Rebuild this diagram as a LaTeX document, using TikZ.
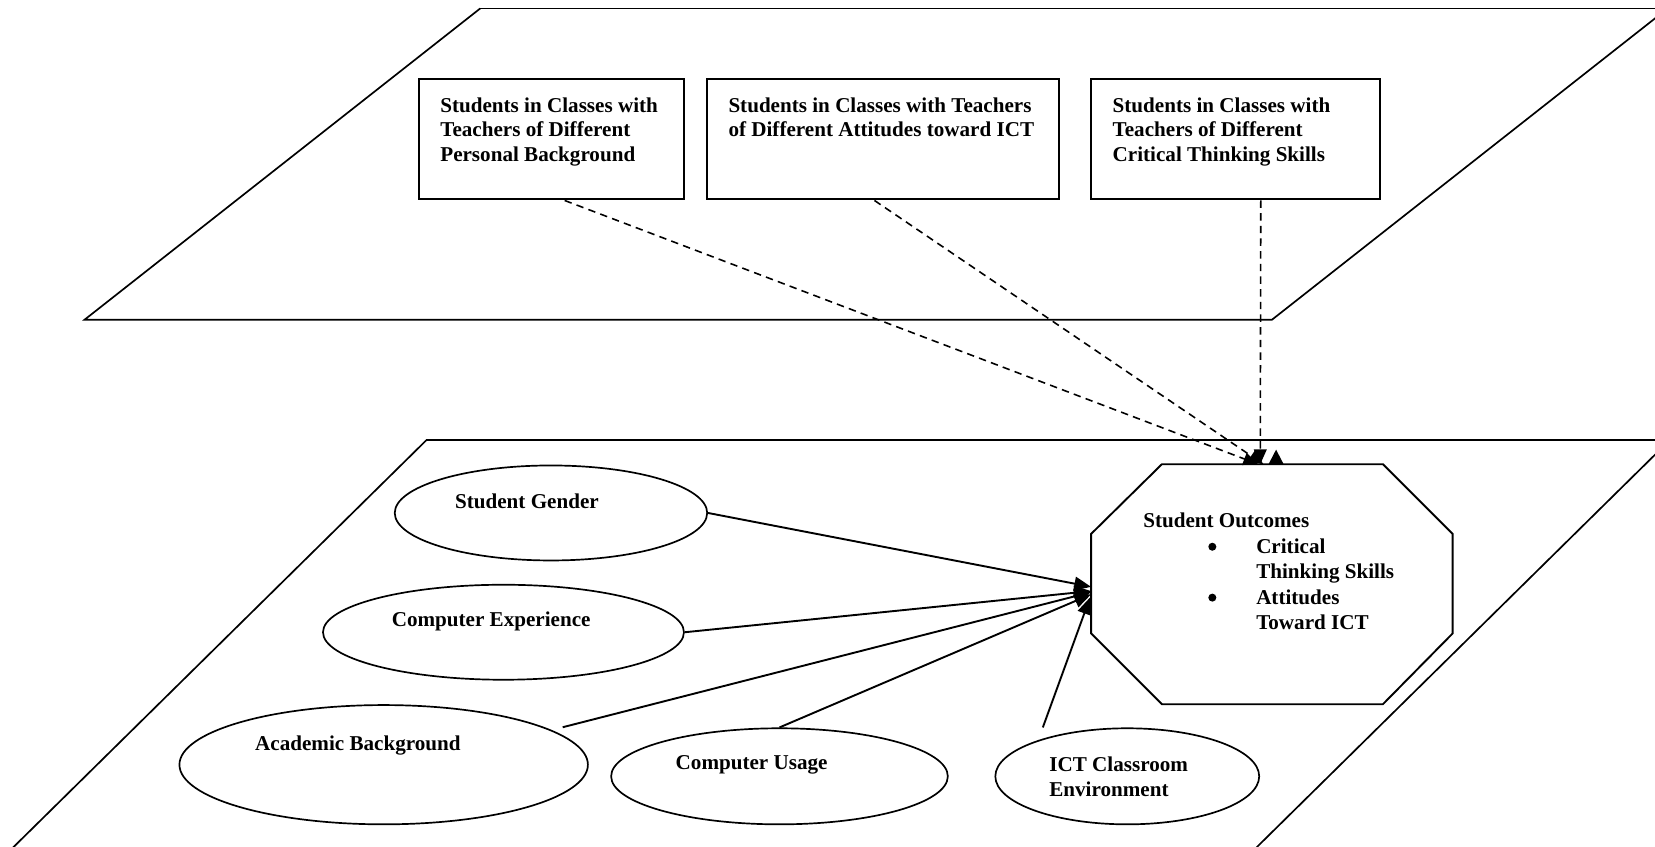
\documentclass[tikz,border=0pt]{standalone}
\usepackage{fontspec}
\setmainfont{Liberation Serif}
\usetikzlibrary{arrows.meta,shapes.geometric}
\begin{document}
\begin{tikzpicture}[x=1pt,y=-1pt,
  plane/.style={line width=1.6pt},
  tbox/.style={draw, line width=1.9pt, inner sep=0pt, minimum height=114pt},
  oval/.style={draw, ellipse, line width=1.6pt, inner sep=0pt},
  txt/.style={inner sep=0pt, font=\bfseries\fontsize{20}{23.2}\selectfont, align=left},
  otxt/.style={inner sep=0pt, font=\bfseries\fontsize{20}{24.2}\selectfont, align=left},
  bul/.style={circle, fill, inner sep=0pt, minimum size=7.6pt},
  dashar/.style={line width=1.5pt, dash pattern=on 7pt off 5pt, -{Triangle[length=14pt,width=12pt]}},
  solidar/.style={line width=1.8pt, -{Triangle[length=16pt,width=13pt]}},
  octo/.style={draw, line width=1.8pt, line join=miter}
]
\useasboundingbox (0,0) rectangle (1568,802);
\clip (0,0) rectangle (1568,802);
\fill[white] (0,0) rectangle (1568,802);

% planes
\draw[plane] (455,8) -- (1600,8);
\draw[plane] (455,8) -- (80,303) -- (1205,303) -- (1580,8);
\draw[plane] (404,417) -- (1600,417);
\draw[plane] (404,417) -- (-10,825);
\draw[plane] (1582,417) -- (1168,825);

% top boxes
\node[tbox, minimum width=251pt] (b1) at (522.5,132) {};
\node[tbox, minimum width=333pt] (b2) at (836.5,132) {};
\node[tbox, minimum width=273pt] (b3) at (1170.5,132) {};
\node[txt, anchor=north west] (t1) at (417,92.5) {Students in Classes with\\Teachers of Different\\Personal Background};
\node[txt, anchor=north west] (t2) at (690,92.5) {Students in Classes with Teachers\\of Different Attitudes toward ICT};
\node[txt, anchor=north west] (t3) at (1054,92.5) {Students in Classes with\\Teachers of Different\\Critical Thinking Skills};

% octagon
\node[minimum width=342pt, minimum height=227pt, inner sep=0pt] (out) at (1205,553.5) {};
\draw[octo] ([xshift=67pt]out.north west) -- ([xshift=-66pt]out.north east)
  -- ([yshift=-66pt]out.north east) -- ([yshift=67pt]out.south east)
  -- ([xshift=-66pt]out.south east) -- ([xshift=67pt]out.south west)
  -- ([yshift=67pt]out.south west) -- ([yshift=-66pt]out.north west) -- cycle;
\node[otxt, anchor=base west] (oh) at (1083,499.6) {Student Outcomes};
\node[bul] (ob1) at (1148.6,518) {};
\node[otxt, anchor=north west] (oi1) at (1190,510.1) {Critical\\Thinking Skills};
\node[bul] (ob2) at (1148.6,566.2) {};
\node[otxt, anchor=north west] (oi2) at (1190,558.5) {Attitudes\\Toward ICT};

% ellipses
\node[oval, minimum width=296pt, minimum height=90pt] (gender) at (522,486) {};
\node[oval, minimum width=342pt, minimum height=90pt] (exp) at (477,599) {};
\node[oval, minimum width=387pt, minimum height=113pt] (acad) at (363.5,724.5) {};
\node[oval, minimum width=319pt, minimum height=91pt] (usage) at (738.5,735.5) {};
\node[oval, minimum width=250pt, minimum height=91pt] (ict) at (1068,735.5) {};
\node[txt, anchor=base west] (lg) at (431,481.5) {Student Gender};
\node[txt, anchor=base west] (le) at (371,593.7) {Computer Experience};
\node[txt, anchor=base west] (la) at (241.6,711) {Academic Background};
\node[txt, anchor=base west] (lu) at (640,729.5) {Computer Usage};
\node[otxt, anchor=north west, font=\bfseries\fontsize{20}{24}\selectfont] (li) at (994,716.5) {ICT Classroom\\Environment};

% dashed arrows
\draw[dashar] ([xshift=12.5pt]b1.south) -- ([xshift=-13pt]out.north);
\draw[dashar] ([xshift=-8pt]b2.south) -- ([xshift=-8pt]out.north);
\draw[dashar] ([xshift=24pt]b3.south) -- ([xshift=-11pt]out.north);
\fill (1202,439.5) -- (1216,439.5) -- (1209,426) -- cycle;

% solid arrows
\draw[solidar] (gender.east) -- ([yshift=-2.5pt]out.west);
\draw[solidar] (exp.east) -- ([yshift=-6.5pt]out.west);
\draw[solidar] ([shift={(12pt,2pt)}]acad.12) -- ([yshift=-7.5pt]out.west);
\draw[solidar] (usage.north) -- ([yshift=-9.5pt]out.west);
\draw[solidar] ([xshift=-80pt]ict.north) -- ([xshift=-1pt,yshift=-12.5pt]out.west);
\end{tikzpicture}
\end{document}
